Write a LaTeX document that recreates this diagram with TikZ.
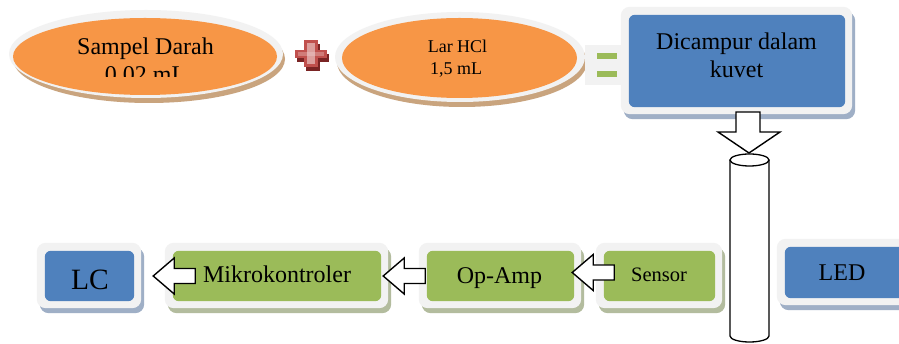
\documentclass[tikz,border=0pt]{standalone}
\usepackage{fontspec}
\setmainfont{Liberation Serif}
\usetikzlibrary{calc,shapes.geometric}
\definecolor{orng}{HTML}{F79646}
\definecolor{orshade}{HTML}{C9A47E}
\definecolor{blu}{HTML}{4F81BD}
\definecolor{blushade}{HTML}{9FAFC6}
\definecolor{grn}{HTML}{9BBB59}
\definecolor{grnshade}{HTML}{B3BC9E}
\definecolor{rimgray}{HTML}{F2F2F2}
\definecolor{crossred}{HTML}{C0504D}
\definecolor{crossdark}{HTML}{7A2424}
\newcommand\fsbig{\fontsize{24}{28}\selectfont}
\newcommand\fsmid{\fontsize{18}{21}\selectfont}
\newcommand\fssens{\fontsize{20.5}{24}\selectfont}
\newcommand\fslc{\fontsize{29.5}{34}\selectfont}
\newcommand\rimpanel[3]{%
  \fill[#3, rounded corners=9pt] ($(#1.north west)+(-5,-3)$) rectangle ($(#1.south east)+(10,12)$);
  \fill[rimgray, rounded corners=9pt] ($(#1.north west)+(-8,-8)$) rectangle ($(#1.south east)+(7,7)$);
  \fill[#2, rounded corners=6pt] (#1.north west) rectangle (#1.south east);
}
\tikzset{
  innerbox/.style={rectangle, inner sep=0pt, draw=none},
  lbl/.style={anchor=base, inner sep=0pt, text=black},
  blockarrow/.style={draw=black, fill=white, line width=1.4pt, line join=miter},
  leftarrow/.pic={\draw[blockarrow] (0,0) -- (21,-18) -- (21,-7.5) -- (42,-7.5) -- (42,7.5) -- (21,7.5) -- (21,18) -- cycle;},
  downarrow/.pic={\draw[blockarrow] (0,0) -- (-31,-21) -- (-13,-21) -- (-13,-41) -- (11,-41) -- (11,-21) -- (31,-21) -- cycle;}
}
\begin{document}
\begin{tikzpicture}[x=1pt,y=-1pt]
\useasboundingbox (0,0) rectangle (899,344);
\fill[white] (0,0) rectangle (899,344);

% ---- ellipse 1 : Sampel Darah
\fill[orshade] (149,59) ellipse [x radius=136pt, y radius=44pt];
\fill[rimgray] (146,54) ellipse [x radius=137pt, y radius=44pt];
\node[ellipse, fill=orng, inner sep=0pt, minimum width=264pt, minimum height=77pt] (blood) at (145,56.5) {};
\node[lbl, font=\fsbig] (bloodA) at (145.5,55) {Sampel Darah};
\begin{scope}
  \clip (0,0) rectangle (899,77);
  \node[lbl, font=\fsbig] (bloodB) at (145.5,82.5) {0,02 mL};
\end{scope}

% ---- plus sign
\begin{scope}[shift={(2,4)}]
  \fill[crossdark] (304,40) rectangle (318,67);
  \fill[crossdark] (295,50) rectangle (327,58);
\end{scope}
\fill[crossred] (304,40) rectangle (318,67);
\fill[crossred] (295,50) rectangle (327,58);
\fill[crossred!55!white] (307,43) rectangle (315,64);
\fill[crossred!75!white] (298,52) rectangle (324,56);
\fill[crossred!45!white] (307,52) rectangle (315,56);

% ---- ellipse 2 : Lar HCl
\fill[orshade] (462,62) ellipse [x radius=125pt, y radius=45pt];
\fill[rimgray] (460,57) ellipse [x radius=125pt, y radius=45pt];
\node[ellipse, fill=orng, inner sep=0pt, minimum width=235pt, minimum height=80pt] (hcl) at (459.5,58) {};
\node[lbl, font=\fsmid] (hclA) at (457.5,53) {Lar HCl};
\node[lbl, font=\fsmid] (hclB) at (456,75) {1,5 mL};

% ---- equals sign
\fill[rimgray] (585,45) rectangle (624,85);
\fill[grn] (597,53) rectangle (617,59);
\fill[grn] (597,71) rectangle (617,77);

% ---- Dicampur dalam kuvet
\node[innerbox, minimum width=216pt, minimum height=92pt] (mix) at (737,61) {};
\rimpanel{mix}{blu}{blushade}
\node[lbl, font=\fsbig] (mixA) at (736.5,50) {Dicampur dalam};
\node[lbl, font=\fsbig] (mixB) at (736.5,78) {kuvet};

% ---- down arrow and cuvette
\coordinate (dtip) at (749,153);
\pic at (dtip) {downarrow};
\filldraw[fill=white, draw=black, line width=1.3pt] (730,160) -- (730,336) arc[start angle=180, end angle=360, x radius=19.5pt, y radius=6pt] -- (769,160);
\draw[line width=1.3pt, fill=white] (749.5,160) ellipse [x radius=19.5pt, y radius=6pt];

% ---- bottom row
\node[innerbox, minimum width=89pt, minimum height=50pt] (lc) at (89.5,276) {};
\node[innerbox, minimum width=208pt, minimum height=50pt] (mk) at (277,276) {};
\node[innerbox, minimum width=147pt, minimum height=50pt] (oa) at (500.5,276) {};
\node[innerbox, minimum width=111pt, minimum height=50pt] (sn) at (659.5,276) {};
\node[innerbox, minimum width=125pt, minimum height=51pt] (led) at (847.5,272.5) {};
\rimpanel{lc}{blu}{blushade}
\rimpanel{mk}{grn}{grnshade}
\rimpanel{oa}{grn}{grnshade}
\rimpanel{sn}{grn}{grnshade}
\rimpanel{led}{blu}{blushade}

\node[lbl, font=\fslc] (lcT) at (90,290) {LC};
\node[lbl, font=\fsbig] (mkT) at (277,283) {Mikrokontroler};
\node[lbl, font=\fsbig] (oaT) at (499.5,284) {Op-Amp};
\node[lbl, font=\fssens] (snT) at (659,282) {Sensor};
\node[lbl, font=\fsbig] (ledT) at (842,281) {LED};

% ---- block arrows (right to left)
\coordinate (t1) at ($(lc.east)+(19,0)$);
\coordinate (t2) at ($(mk.east)+(2,0)$);
\coordinate (t3) at ($(oa.east)+(-2,-3.5)$);
\pic at (t1) {leftarrow};
\pic at (t2) {leftarrow};
\pic at (t3) {leftarrow};
\end{tikzpicture}
\end{document}
